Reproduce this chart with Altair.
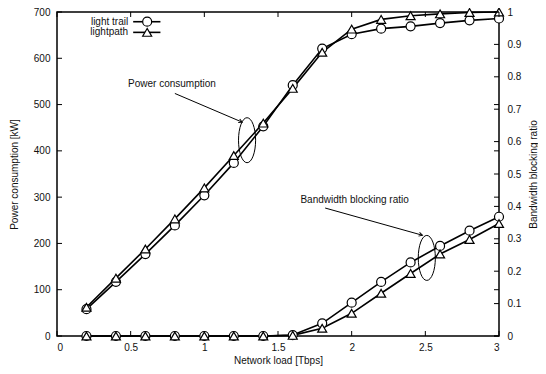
import altair as alt
import pandas as pd

# ---------------- data ----------------
load = [0.2, 0.4, 0.6, 0.8, 1.0, 1.2, 1.4, 1.6, 1.8, 2.0, 2.2, 2.4, 2.6, 2.8, 3.0]
power_trail = [58, 117, 177, 239, 304, 374, 453, 542, 621, 652, 664, 669, 676, 682, 686]
power_path = [62, 125, 188, 253, 320, 390, 460, 535, 613, 663, 684, 692, 696, 699, 700]
ratio_trail = [0, 0, 0, 0, 0, 0, 0, 0.003, 0.039, 0.103, 0.167, 0.227, 0.278, 0.325, 0.368]
ratio_path = [0, 0, 0, 0, 0, 0, 0, 0.002, 0.024, 0.070, 0.132, 0.193, 0.253, 0.298, 0.347]
series = ["light trail", "lightpath"]
shapes = ["circle", "triangle-up"]

x_ticks = [0, 0.5, 1, 1.5, 2, 2.5, 3]
power_ticks = [0, 100, 200, 300, 400, 500, 600, 700]
ratio_ticks = [0, 0.1, 0.2, 0.3, 0.4, 0.5, 0.6, 0.7, 0.8, 0.9, 1.0]

# annotation anchors (data coordinates)
power_note = {"text": "Power consumption", "x": 0.78, "y": 544,
              "ax": 0.80, "ay": 524, "bx": 1.257, "by": 462, "ex": 1.29, "ey": 423, "ang": 23}
ratio_note = {"text": "Bandwidth blocking ratio", "x": 2.02, "y": 0.419,
              "ax": 1.82, "ay": 0.395, "bx": 2.48, "by": 0.311, "ex": 2.51, "ey": 0.241, "ang": 16}
legend_text_x = 0.483
legend_line_x = [0.517, 0.702]
legend_mark_x = 0.612
legend_y = [679, 656]

# ---------------- tables ----------------
rows = []
for s, pw, rt in [(series[0], power_trail, ratio_trail), (series[1], power_path, ratio_path)]:
    for x, p, r in zip(load, pw, rt):
        rows.append({"load": x, "series": s, "power": p, "ratio": r})
df = pd.DataFrame(rows)

FONT = "Liberation Sans"
W, H = 442, 324

xscale = alt.Scale(domain=[0, 3], nice=False, zero=False)
pscale = alt.Scale(domain=[0, 700], nice=False)
rscale = alt.Scale(domain=[0, 1], nice=False)

xaxis = alt.Axis(values=x_ticks, format="~g", ticks=False, domain=False, grid=False,
                 labelPadding=6, labelFontSize=10, labelFont=FONT, labelColor="#111",
                 title="Network load [Tbps]", titleFont=FONT, titleFontSize=10,
                 titleFontWeight="normal", titleColor="#111",
                 titleX=W / 2, titleY=24, titleBaseline="middle")
paxis = alt.Axis(values=power_ticks, format="d", ticks=False, domain=False, grid=False,
                 labelPadding=7, labelFontSize=10, labelFont=FONT, labelColor="#111",
                 title="Power consumption [kW]", titleFont=FONT, titleFontSize=10,
                 titleFontWeight="normal", titleColor="#111",
                 titleX=-43, titleY=H / 2, titleAngle=270, titleBaseline="middle",
                 titleAlign="center")
raxis = alt.Axis(values=ratio_ticks, format="~g", ticks=False, domain=False, grid=False,
                 orient="right", labelPadding=8, labelFontSize=10, labelFont=FONT,
                 labelColor="#111",
                 title="Bandwidth blocking ratio", titleFont=FONT, titleFontSize=10,
                 titleFontWeight="normal", titleColor="#111",
                 titleX=34, titleY=H / 2, titleAngle=270, titleBaseline="middle",
                 titleAlign="center")


def X(f):
    return alt.X(f, type="quantitative", scale=xscale, axis=xaxis)


def YP(f):
    return alt.Y(f, type="quantitative", scale=pscale, axis=paxis)


def YR(f):
    return alt.Y(f, type="quantitative", scale=rscale, axis=raxis)


base = alt.Chart(df)

ellipse_path = ("M 0.38 0 C 0.38 0.5523 0.21 1 0 1 C -0.21 1 -0.38 0.5523 -0.38 0 "
                "C -0.38 -0.5523 -0.21 -1 0 -1 C 0.21 -1 0.38 -0.5523 0.38 0 Z")
arrow_path = "M -1 -0.55 L 0 0 L -1 0.55"


def point_layers(yfn, field):
    out = []
    for s, sh in zip(series, shapes):
        out.append(base.transform_filter(alt.datum.series == s).mark_point(
            shape=sh, size=81, filled=True, fill="white", stroke="black",
            strokeWidth=1.2, opacity=1).encode(x=X("load"), y=yfn(field)))
    return out


def note_layers(note, yfn):
    nd = pd.DataFrame([note])
    nb = alt.Chart(nd)
    return [
        nb.mark_text(font=FONT, fontSize=10, color="#111", align="center",
                     baseline="middle").encode(x=X("x"), y=yfn("y"), text="text:N"),
        nb.mark_rule(color="black", strokeWidth=1).encode(
            x=X("ax"), y=yfn("ay"), x2="bx", y2="by"),
        nb.mark_point(shape=arrow_path, size=49, filled=False, stroke="black",
                      strokeWidth=1, opacity=1).encode(
            x=X("bx"), y=yfn("by"), angle=alt.Angle("ang:Q", scale=None)),
        nb.mark_point(shape=ellipse_path, size=2025, filled=False, stroke="black",
                      strokeWidth=1, opacity=1).encode(x=X("ex"), y=yfn("ey")),
    ]


# ---------- power (left axis) ----------
power_lines = base.mark_line(color="black", strokeWidth=1.6).encode(
    x=X("load"), y=YP("power"), detail="series:N")

xt = alt.Chart(pd.DataFrame({"t": x_ticks}))
pt = alt.Chart(pd.DataFrame({"t": power_ticks}))
x_ticks_bottom = xt.mark_rule(color="black", strokeWidth=1).encode(
    x=X("t"), y=alt.value(H), y2=alt.value(H - 5))
x_ticks_top = xt.mark_rule(color="black", strokeWidth=1).encode(
    x=X("t"), y=alt.value(0), y2=alt.value(5))
p_ticks_left = pt.mark_rule(color="black", strokeWidth=1).encode(
    y=YP("t"), x=alt.value(0), x2=alt.value(5))
p_ticks_right = pt.mark_rule(color="black", strokeWidth=1).encode(
    y=YP("t"), x=alt.value(W), x2=alt.value(W - 5))

leg = pd.DataFrame({"series": series, "shape": shapes, "ly": legend_y,
                    "tx": [legend_text_x] * 2, "x1": [legend_line_x[0]] * 2,
                    "x2": [legend_line_x[1]] * 2, "mx": [legend_mark_x] * 2})
lb = alt.Chart(leg)
leg_text = lb.mark_text(font=FONT, fontSize=10, color="#111", align="right",
                        baseline="middle").encode(x=X("tx"), y=YP("ly"), text="series:N")
leg_line = lb.mark_rule(color="black", strokeWidth=1.6).encode(
    x=X("x1"), x2="x2", y=YP("ly"))
leg_marks = []
for s, sh in zip(series, shapes):
    leg_marks.append(lb.transform_filter(alt.datum.series == s).mark_point(
        shape=sh, size=81, filled=True, fill="white", stroke="black",
        strokeWidth=1.2, opacity=1).encode(x=X("mx"), y=YP("ly")))

power_layer = alt.layer(
    power_lines, *point_layers(YP, "power"), x_ticks_bottom, x_ticks_top,
    p_ticks_left, p_ticks_right, leg_line, leg_text, *leg_marks,
    *note_layers(power_note, YP))

# ---------- ratio (right axis) ----------
ratio_lines = base.mark_line(color="black", strokeWidth=1.6).encode(
    x=X("load"), y=YR("ratio"), detail="series:N")
rt = alt.Chart(pd.DataFrame({"t": ratio_ticks}))
r_ticks_right = rt.mark_rule(color="black", strokeWidth=1).encode(
    y=YR("t"), x=alt.value(W), x2=alt.value(W - 5))

ratio_layer = alt.layer(ratio_lines, *point_layers(YR, "ratio"), r_ticks_right,
                        *note_layers(ratio_note, YR))

chart = alt.layer(power_layer, ratio_layer).resolve_scale(y="independent").properties(
    width=W, height=H,
    padding={"left": 49, "top": 4, "right": 39, "bottom": 30},
    autosize=alt.AutoSizeParams(type="none"),
    background="white",
).configure_view(stroke="black", strokeWidth=1.5)

chart.save("out.html", embed_options={"renderer": "svg", "actions": False})
